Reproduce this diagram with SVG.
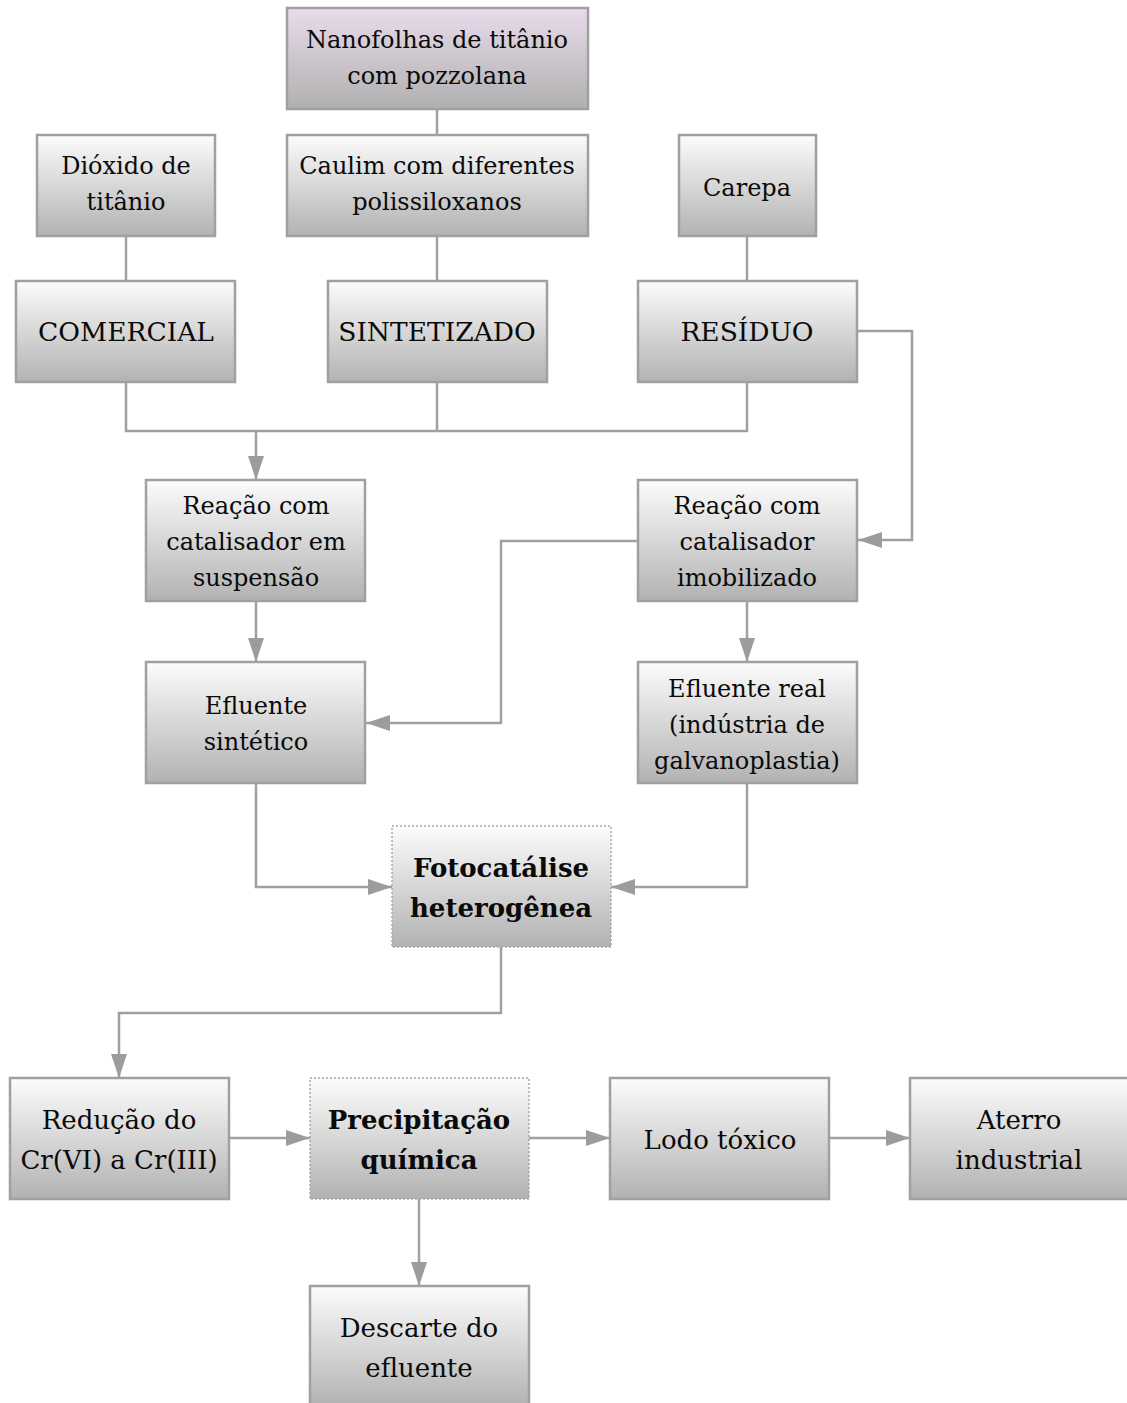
<svg xmlns="http://www.w3.org/2000/svg" width="1127" height="1403" viewBox="0 0 1127 1403">
<defs>
<linearGradient id="g" x1="0" y1="0" x2="0" y2="1">
<stop offset="0" stop-color="#fcfcfc"/>
<stop offset="1" stop-color="#b2b2b2"/>
</linearGradient>
<linearGradient id="gp" x1="0" y1="0" x2="0" y2="1">
<stop offset="0" stop-color="#e9dbeb"/>
<stop offset="1" stop-color="#b0b0b0"/>
</linearGradient>
<marker id="ah" viewBox="0 0 24 16" refX="24" refY="8" markerWidth="24" markerHeight="16" markerUnits="userSpaceOnUse" orient="auto">
<path d="M0,0 L24,8 L0,16 Z" fill="#9c9c9c"/>
</marker>
<style>
.b{fill:url(#g);stroke:#a0a0a0;stroke-width:2.5}
.p{fill:url(#gp);stroke:#a0a0a0;stroke-width:2.5}
.d{fill:url(#g);stroke:#a8a8a8;stroke-width:1.5;stroke-dasharray:2 2}
text{font-family:"DejaVu Serif","Liberation Serif",serif;font-size:24px;fill:#0a0a0a;text-anchor:middle;dominant-baseline:central}
.c{font-size:26.5px}
.l{font-size:26px}
.bd{font-weight:bold;font-size:26px}
.k path{fill:none;stroke:#a0a0a0;stroke-width:2.5}
.k .a{marker-end:url(#ah)}
</style>
</defs>
<g class="k" id="connectors">
<path d="M437,109 V135"/>
<path d="M126,236 V281"/>
<path d="M437,236 V281"/>
<path d="M747,236 V281"/>
<path d="M126,382 V431 H747 V382"/>
<path d="M437,382 V431"/>
<path class="a" d="M256,431 V480"/>
<path class="a" d="M857,331 H912 V540 H858"/>
<path class="a" d="M638,541 H501 V723 H366"/>
<path class="a" d="M256,601 V662"/>
<path class="a" d="M747,601 V662"/>
<path class="a" d="M256,783 V887 H392"/>
<path class="a" d="M747,783 V887 H611"/>
<path class="a" d="M501,947 V1013 H119 V1078"/>
<path class="a" d="M229,1138 H310"/>
<path class="a" d="M529,1138 H610"/>
<path class="a" d="M829,1138 H910"/>
<path class="a" d="M419,1199 V1286"/>
</g>
<g id="n-nanofolhas"><rect class="p" x="287" y="8" width="301" height="101"/><text x="437" y="40">Nanofolhas de titânio</text><text x="437" y="76">com pozzolana</text></g>
<g id="n-dioxido"><rect class="b" x="37" y="135" width="178" height="101"/><text x="126" y="166">Dióxido de</text><text x="126" y="202">titânio</text></g>
<g id="n-caulim"><rect class="b" x="287" y="135" width="301" height="101"/><text x="437" y="166">Caulim com diferentes</text><text x="437" y="202">polissiloxanos</text></g>
<g id="n-carepa"><rect class="b" x="679" y="135" width="137" height="101"/><text x="747" y="188">Carepa</text></g>
<g id="n-comercial"><rect class="b" x="16" y="281" width="219" height="101"/><text class="c" x="126" y="331">COMERCIAL</text></g>
<g id="n-sintetizado"><rect class="b" x="328" y="281" width="219" height="101"/><text class="c" x="437" y="331">SINTETIZADO</text></g>
<g id="n-residuo"><rect class="b" x="638" y="281" width="219" height="101"/><text class="c" x="747" y="331">RESÍDUO</text></g>
<g id="n-suspensao"><rect class="b" x="146" y="480" width="219" height="121"/><text x="256" y="506">Reação com</text><text x="256" y="542">catalisador em</text><text x="256" y="578">suspensão</text></g>
<g id="n-imobilizado"><rect class="b" x="638" y="480" width="219" height="121"/><text x="747" y="506">Reação com</text><text x="747" y="542">catalisador</text><text x="747" y="578">imobilizado</text></g>
<g id="n-sintetico"><rect class="b" x="146" y="662" width="219" height="121"/><text x="256" y="706">Efluente</text><text x="256" y="742">sintético</text></g>
<g id="n-real"><rect class="b" x="638" y="662" width="219" height="121"/><text x="747" y="689">Efluente real</text><text x="747" y="725">(indústria de</text><text x="747" y="761">galvanoplastia)</text></g>
<g id="n-fotocatalise"><rect class="d" x="392" y="826" width="219" height="121"/><text class="bd" x="501" y="868">Fotocatálise</text><text class="bd" x="501" y="908">heterogênea</text></g>
<g id="n-reducao"><rect class="b" x="10" y="1078" width="219" height="121"/><text class="l" x="119" y="1120">Redução do</text><text class="l" x="119" y="1160">Cr(VI) a Cr(III)</text></g>
<g id="n-precipitacao"><rect class="d" x="310" y="1078" width="219" height="121"/><text class="bd" x="419" y="1120">Precipitação</text><text class="bd" x="419" y="1160">química</text></g>
<g id="n-lodo"><rect class="b" x="610" y="1078" width="219" height="121"/><text class="l" x="720" y="1140">Lodo tóxico</text></g>
<g id="n-aterro"><rect class="b" x="910" y="1078" width="219" height="121"/><text class="l" x="1019" y="1120">Aterro</text><text class="l" x="1019" y="1160">industrial</text></g>
<g id="n-descarte"><rect class="b" x="310" y="1286" width="219" height="121"/><text class="l" x="419" y="1328">Descarte do</text><text class="l" x="419" y="1368">efluente</text></g>
</svg>
